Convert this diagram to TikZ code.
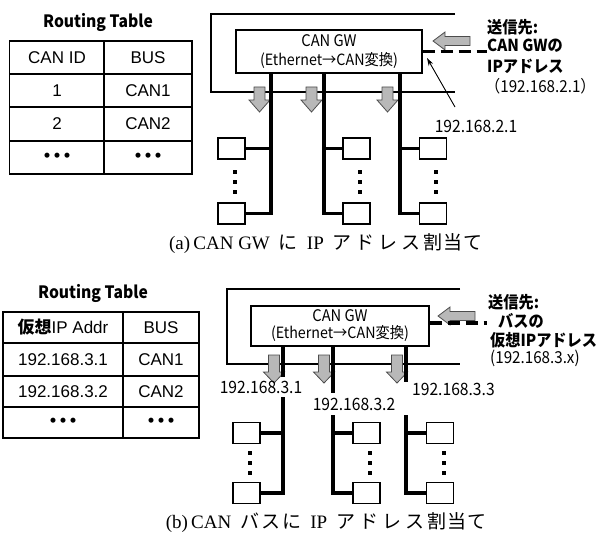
\documentclass[tikz,border=0pt]{standalone}
\usepackage{fontspec}
\setmainfont{Liberation Serif}
\newfontfamily\jp{Noto Sans CJK JP}
\newfontfamily\jpn[FakeStretch=0.92]{Noto Sans CJK JP}
\newfontfamily\arialf{Liberation Sans}
\usetikzlibrary{arrows.meta}
\newcommand\garrdown[4]{%
  \filldraw[garrow] ({#1-5.5},#2) -- ({#1+5.5},#2) -- ({#1+5.5},#3) -- ({#1+10.5},#3) -- (#1,#4) -- ({#1-10.5},#3) -- ({#1-5.5},#3) -- cycle;}
\newcommand\garrleft[4]{%
  \filldraw[garrow] (#1,#2) -- (#3,{#2-9}) -- (#3,{#2-4.5}) -- (#4,{#2-4.5}) -- (#4,{#2+4.5}) -- (#3,{#2+4.5}) -- (#3,{#2+9}) -- cycle;}
\newcommand\vdotsq[2]{%
  \fill ({#1-2},{#2-12}) rectangle ({#1+2},{#2-8});
  \fill ({#1-2},{#2-2}) rectangle ({#1+2},{#2+2});
  \fill ({#1-2},{#2+8}) rectangle ({#1+2},{#2+12});}
\newcommand\tdots{・\hspace{-8pt}・\hspace{-8pt}・}
\begin{document}
\begin{tikzpicture}[x=1pt,y=-1pt,
  ttitle/.style={font=\jpn\bfseries\fontsize{17}{20}\selectfont, inner sep=0},
  cell/.style={font=\arialf\fontsize{17}{20}\selectfont, inner sep=0},
  celldots/.style={font=\jp\bfseries\fontsize{18}{20}\selectfont, inner sep=0},
  tline/.style={line width=1.4pt},
  frame/.style={line width=1.1pt},
  gwbox/.style={draw, line width=1.2pt, align=center, inner sep=0,
    font=\jpn\fontsize{16}{20}\selectfont},
  ecu/.style={draw, line width=1.6pt, minimum width=27pt, minimum height=21pt, inner sep=0},
  bus/.style={line width=3.5pt, line join=miter},
  dashln/.style={line width=3.5pt, dash pattern=on 12pt off 6pt},
  garrow/.style={fill=black!28, draw=black!70, line width=0.8pt},
  lbl/.style={font=\jpn\fontsize{17}{20}\selectfont, inner sep=0},
  note/.style={font=\jpn\bfseries\fontsize{16.5}{20}\selectfont, inner sep=0, anchor=west},
  notel/.style={font=\jpn\fontsize{16.5}{20}\selectfont, inner sep=0, anchor=west},
  captext/.style={font=\fontsize{19}{22}\selectfont, inner sep=0}]
\useasboundingbox (0,0) rectangle (609,540);

% ================= (a) =================
\node[ttitle] (rtA) at (98,22) {Routing Table};
\draw[tline] (9.5,41) rectangle (192,174);
\draw[tline] (104,41) -- (104,174);
\foreach \yy in {74,107,141} \draw[tline] (9.5,\yy) -- (192,\yy);
\node[cell] (ta11) at (57,57.5) {CAN ID};
\node[cell] (ta12) at (148,57.5) {BUS};
\node[cell] (ta21) at (57,90.5) {1};
\node[cell] (ta22) at (148,90.5) {CAN1};
\node[cell] (ta31) at (57,124) {2};
\node[cell] (ta32) at (148,124) {CAN2};
\node[celldots] (ta41) at (57,157.5) {\tdots};
\node[celldots] (ta42) at (148,157.5) {\tdots};

\draw[frame] (455,14) -- (211,14) -- (211,92) -- (455,92);
\node[gwbox, minimum width=186pt, minimum height=43pt] (gwA) at (329,51.5)
  {CAN GW\\[-1pt]{\fontsize{15.5}{18}\selectfont (Ethernet→CAN変換)}};

\garrdown{259.5}{87}{100}{112}
\garrdown{311.5}{87}{100}{112}
\garrdown{387.5}{87}{100}{112}

\node[ecu] (a11) at (231.5,148.5) {};
\node[ecu] (a12) at (231.5,213.5) {};
\node[ecu] (a21) at (356.5,148.5) {};
\node[ecu] (a22) at (356.5,213.5) {};
\node[ecu] (a31) at (433,148.5) {};
\node[ecu] (a32) at (433,213.5) {};
\coordinate (a1t) at (271,73);
\coordinate (a2t) at (324,73);
\coordinate (a3t) at (400,73);
\draw[bus] (a1t) |- (a12.east);
\draw[bus] (a1t |- a11.east) -- (a11.east);
\draw[bus] (a2t) |- (a22.west);
\draw[bus] (a2t |- a21.west) -- (a21.west);
\draw[bus] (a3t) |- (a32.west);
\draw[bus] (a3t |- a31.west) -- (a31.west);
\vdotsq{234.5}{182}
\vdotsq{359.5}{182}
\vdotsq{436}{182}

\garrleft{433}{41}{445}{470}
\coordinate (dashA) at (487,51.5);
\draw[dashln] (gwA.east) -- (dashA);

\node[lbl] (ipA) at (476,126) {192.168.2.1};
\coordinate (ptrA) at (455,107);
\coordinate (tipA) at (427,58);
\draw[line width=0.9pt, -{Stealth[length=8pt,width=5pt]}] (ptrA) -- (tipA);

\node[note] (sA1) at (487,27) {送信先:};
\node[note] (sA2) at (487,46) {CAN GWの};
\node[note] (sA3) at (487,66) {IPアドレス};
\node[notel] (sA4) at (485,86) {（192.168.2.1）};

\node[captext] (capA) at (326,244) {(a)\,CAN GW\hspace{9pt}{\jp に}\hspace{9pt}IP\hspace{9pt}{\jp ア\hspace{4pt}ド\hspace{4pt}レ\hspace{4pt}ス\hspace{3pt}割\hspace{1pt}当\hspace{1pt}て}};

% ================= (b) =================
\node[ttitle] (rtB) at (93,293) {Routing Table};
\draw[tline] (3,312) rectangle (199,438);
\draw[tline] (123,312) -- (123,438);
\foreach \yy in {343,376,407} \draw[tline] (3,\yy) -- (199,\yy);
\node[cell] (tb11) at (63,327.5) {{\jp\bfseries 仮想}IP Addr};
\node[cell] (tb12) at (161,327.5) {BUS};
\node[cell] (tb21) at (63,359.5) {192.168.3.1};
\node[cell] (tb22) at (161,359.5) {CAN1};
\node[cell] (tb31) at (63,391.5) {192.168.3.2};
\node[cell] (tb32) at (161,391.5) {CAN2};
\node[celldots] (tb41) at (63,422.5) {\tdots};
\node[celldots] (tb42) at (161,422.5) {\tdots};

\draw[frame] (460,289) -- (227,289) -- (227,364) -- (460,364);
\node[gwbox, minimum width=178pt, minimum height=40pt] (gwB) at (340,326)
  {CAN GW\\[-3pt]{\fontsize{15.5}{18}\selectfont (Ethernet→CAN変換)}};

\garrdown{274}{355}{372}{383}
\garrdown{324}{355}{372}{383}
\garrdown{397}{355}{372}{383}

\node[ecu] (b11) at (246.5,433) {};
\node[ecu] (b12) at (246.5,493) {};
\node[ecu] (b21) at (366.5,433) {};
\node[ecu] (b22) at (366.5,493) {};
\node[ecu] (b31) at (440,433) {};
\node[ecu] (b32) at (440,493) {};
\coordinate (b1t) at (283,346);
\coordinate (b2t) at (333,346);
\coordinate (b3t) at (406,346);
\coordinate (b1g) at (283,377);
\coordinate (b1r) at (283,397);
\coordinate (b2g) at (333,393);
\coordinate (b2r) at (333,415);
\coordinate (b3g) at (406,382);
\coordinate (b3r) at (406,415);
\draw[bus] (b1t) -- (b1g);
\draw[bus] (b1r) |- (b12.east);
\draw[bus] (b1t |- b11.east) -- (b11.east);
\draw[bus] (b2t) -- (b2g);
\draw[bus] (b2r) |- (b22.west);
\draw[bus] (b2t |- b21.west) -- (b21.west);
\draw[bus] (b3t) -- (b3g);
\draw[bus] (b3r) |- (b32.west);
\draw[bus] (b3t |- b31.west) -- (b31.west);
\vdotsq{250}{463}
\vdotsq{370}{463}
\vdotsq{443.5}{463}

\node[lbl] (ipB1) at (261,387) {192.168.3.1};
\node[lbl] (ipB2) at (354,404) {192.168.3.2};
\node[lbl, anchor=west] (ipB3) at (412,389) {192.168.3.3};

\garrleft{438}{316}{450}{475}
\coordinate (dashB) at (487,323);
\draw[dashln] (gwB.east |- dashB) -- (dashB);

\node[note] (sB1) at (488,302) {送信先:};
\node[note] (sB2) at (498,321) {バスの};
\node[note] (sB3) at (490,340) {仮想IPアドレス};
\node[notel] (sB4) at (490,358) {(192.168.3.x)};

\node[captext] (capB) at (326,523) {(b)\,CAN\hspace{9pt}{\jp バ\hspace{2pt}ス\hspace{2pt}に}\hspace{9pt}IP\hspace{9pt}{\jp ア\hspace{4pt}ド\hspace{4pt}レ\hspace{4pt}ス\hspace{3pt}割\hspace{1pt}当\hspace{1pt}て}};
\end{tikzpicture}
\end{document}
